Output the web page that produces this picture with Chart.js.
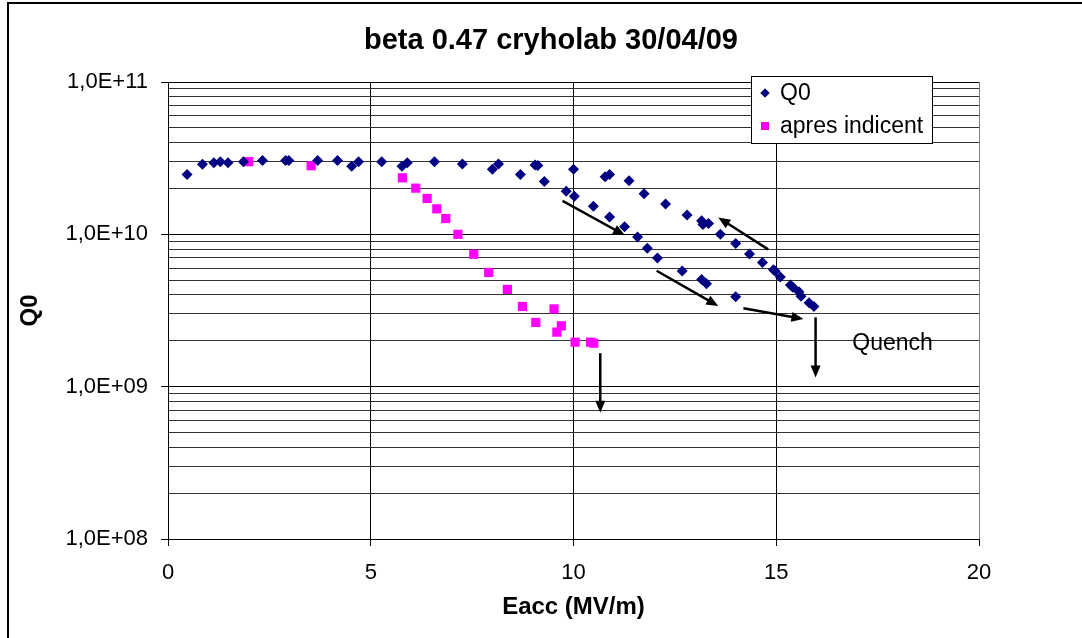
<!DOCTYPE html>
<html>
<head>
	<script src="https://cdn.jsdelivr.net/npm/chart.js@4.4.0/dist/chart.umd.min.js"></script>
	<title>beta 0.47 cryholab 30/04/09</title>
	<style>
		body { margin: 0; background: #fff; }
	</style>
</head>
<body>
	<canvas id="myChart" width="1082" height="638"></canvas>
	<script type="text/javascript">
		// Q0 series (Eacc in MV/m)
		const eaccQ0 = [0.47, 0.85, 1.13, 1.29, 1.48, 1.86, 2.33, 2.90, 2.98, 3.69, 4.18, 4.53, 4.70, 5.27, 5.77, 5.90, 6.57,
			7.26, 8.00, 8.15, 8.69, 9.05, 9.12, 9.28, 9.82, 10.00, 10.02, 10.49, 10.78, 10.89, 10.89, 11.26, 11.37, 11.58,
			11.74, 11.82, 12.07, 12.27, 12.68, 12.80, 13.16, 13.19, 13.16, 13.28, 13.33, 13.62, 14.00, 14.00, 14.34, 14.66,
			14.93, 14.97, 15.10, 15.35, 15.41, 15.56, 15.61, 15.81, 15.93];
		const q0Values = [2.47e10, 2.88e10, 2.95e10, 3.0e10, 2.95e10, 3.0e10, 3.05e10, 3.05e10, 3.05e10, 3.05e10, 3.05e10, 2.8e10, 3.0e10, 3.0e10, 2.8e10, 2.95e10, 3.0e10,
			2.9e10, 2.67e10, 2.9e10, 2.47e10, 2.85e10, 2.83e10, 2.22e10, 1.92e10, 2.67e10, 1.78e10, 1.53e10, 2.39e10, 2.47e10, 1.30e10, 1.12e10, 2.25e10, 9.6e9,
			1.85e10, 8.1e9, 7.0e9, 1.58e10, 5.74e9, 1.34e10, 1.23e10, 1.16e10, 5.06e9, 4.74e9, 1.18e10, 1.0e10, 8.69e9, 3.9e9, 7.44e9, 6.53e9,
			5.85e9, 5.75e9, 5.24e9, 4.65e9, 4.5e9, 4.2e9, 3.92e9, 3.56e9, 3.36e9];

		// "apres indicent" series
		const eaccApres = [1.99, 3.53, 5.78, 6.11, 6.39, 6.63, 6.85, 7.15, 7.54, 7.91, 8.37, 8.74, 9.07, 9.52, 9.59, 9.70, 10.04, 10.42, 10.50];
		const q0Apres = [3.0e10, 2.82e10, 2.35e10, 2.01e10, 1.72e10, 1.47e10, 1.27e10, 1.0e10, 7.4e9, 5.62e9, 4.35e9, 3.36e9, 2.64e9, 3.24e9, 2.28e9, 2.51e9, 1.96e9, 1.96e9, 1.93e9];

		// axes
		const xTicks = [0, 5, 10, 15, 20];
		const yDecades = [1e8, 1e9, 1e10, 1e11];

		// arrows drawn on the plot: [x1, y1, x2, y2] in data units
		const arrows = [
			[9.73, 1.66e10, 11.27, 9.85e9],
			[12.05, 5.77e9, 13.57, 3.38e9],
			[14.80, 7.97e9, 13.57, 1.29e10],
			[14.19, 3.27e9, 15.67, 2.78e9],
			[15.97, 2.85e9, 15.97, 1.15e9],
			[10.66, 1.66e9, 10.66, 6.74e8]
		];
		const quenchLabel = { text: 'Quench', x: 17.87, y: 1.93e9 };

		const FONT = '"Liberation Sans", Arial, sans-serif';

		function toPoints(xs, ys) {
			let pts = [];
			for (let i = 0; i < xs.length; i++) pts.push({ x: xs[i], y: ys[i] });
			return pts;
		}

		function drawArrow(ctx, x1, y1, x2, y2) {
			const a = Math.atan2(y2 - y1, x2 - x1);
			const L = 12, W = 5;
			ctx.beginPath();
			ctx.moveTo(x1, y1);
			ctx.lineTo(x2 - L * 0.7 * Math.cos(a), y2 - L * 0.7 * Math.sin(a));
			ctx.stroke();
			ctx.beginPath();
			ctx.moveTo(x2, y2);
			ctx.lineTo(x2 - L * Math.cos(a) + W * Math.sin(a), y2 - L * Math.sin(a) - W * Math.cos(a));
			ctx.lineTo(x2 - L * Math.cos(a) - W * Math.sin(a), y2 - L * Math.sin(a) + W * Math.cos(a));
			ctx.closePath();
			ctx.fill();
		}

		const overlay = {
			id: 'overlay',
			afterDraw(chart) {
				const ctx = chart.ctx;
				const xs = chart.scales.x, ys = chart.scales.y;
				ctx.save();

				// outer frame
				ctx.strokeStyle = '#000';
				ctx.lineWidth = 2;
				ctx.beginPath();
				ctx.moveTo(8, 638);
				ctx.lineTo(8, 3);
				ctx.lineTo(1082, 3);
				ctx.stroke();

				// title
				ctx.fillStyle = '#000';
				ctx.font = 'bold 29px ' + FONT;
				ctx.textAlign = 'center';
				ctx.textBaseline = 'middle';
				ctx.fillText('beta 0.47 cryholab 30/04/09', 551, 41);

				// arrows
				ctx.lineWidth = 2.5;
				ctx.strokeStyle = '#000';
				arrows.forEach(a => {
					drawArrow(ctx, xs.getPixelForValue(a[0]), ys.getPixelForValue(a[1]),
						xs.getPixelForValue(a[2]), ys.getPixelForValue(a[3]));
				});

				// Quench
				ctx.font = '23px ' + FONT;
				ctx.fillText(quenchLabel.text, xs.getPixelForValue(quenchLabel.x), ys.getPixelForValue(quenchLabel.y));

				// legend box
				ctx.fillStyle = '#fff';
				ctx.fillRect(751, 76, 181, 67);
				ctx.lineWidth = 1;
				ctx.strokeRect(751.5, 76.5, 181, 67);
				ctx.textAlign = 'left';
				ctx.fillStyle = '#000';
				const rows = [93, 126];
				const legendRadius = [4.5, 5.5];
				chart.data.datasets.forEach((ds, i) => {
					Chart.helpers.drawPoint(ctx, {
						pointStyle: ds.pointStyle,
						radius: legendRadius[i],
						borderWidth: 0
					}, 765, rows[i]);
					ctx.fillStyle = ds.backgroundColor;
					ctx.fill();
					ctx.fillStyle = '#000';
					ctx.font = '23px ' + FONT;
					ctx.fillText(ds.label, 780, rows[i] + 1);
				});
				ctx.restore();
			}
		};

		const ctx = document.getElementById('myChart');
		const myChart = new Chart(ctx, {
			type: 'scatter',
			data: {
				datasets: [
					{
						label: 'Q0',
						data: toPoints(eaccQ0, q0Values),
						pointStyle: 'rectRot',
						pointRadius: 5.5,
						borderWidth: 0,
						backgroundColor: '#000080',
						borderColor: '#000080'
					},
					{
						label: 'apres indicent',
						data: toPoints(eaccApres, q0Apres),
						pointStyle: 'rect',
						pointRadius: 6.5,
						borderWidth: 0,
						backgroundColor: '#ff00ff',
						borderColor: '#ff00ff'
					}
				]
			},
			options: {
				responsive: false,
				animation: false,
				layout: { padding: { top: 82, right: 103, left: 0, bottom: 0 } },
				plugins: {
					legend: { display: false },
					tooltip: { enabled: false }
				},
				scales: {
					x: {
						type: 'linear',
						min: 0,
						max: 20,
						afterBuildTicks: s => { s.ticks = xTicks.map(v => ({ value: v })); },
						afterFit: s => { s.height = 99; },
						ticks: { color: '#000', font: { family: FONT, size: 22 }, padding: 14 },
						grid: {
							color: c => (c.tick && c.tick.value === 20) ? '#808080' : '#000',
							tickColor: '#000',
							tickLength: 7
						},
						border: { color: '#000', width: 1 },
						title: {
							display: true,
							text: 'Eacc (MV/m)',
							color: '#000',
							font: { family: FONT, size: 24, weight: 'bold' },
							padding: { top: 0, bottom: 16 }
						}
					},
					y: {
						type: 'logarithmic',
						min: 1e8,
						max: 1e11,
						afterBuildTicks: s => {
							let t = [];
							yDecades.forEach((d, i) => {
								for (let m = 1; m <= 9; m++) {
									if (i === yDecades.length - 1 && m > 1) break;
									t.push({ value: d * m });
								}
							});
							s.ticks = t;
						},
						afterFit: s => { s.width = 168; },
						ticks: {
							autoSkip: false,
							color: '#000',
							font: { family: FONT, size: 22 },
							padding: 13,
							callback: v => yDecades.includes(v) ? '1,0E+' + String(Math.round(Math.log10(v))).padStart(2, '0') : ''
						},
						grid: {
							color: c => (c.tick && yDecades.includes(c.tick.value)) ? '#000' : '#333',
							tickColor: c => (c.tick && yDecades.includes(c.tick.value)) ? '#000' : 'rgba(0,0,0,0)',
							tickLength: 7
						},
						border: { color: '#000', width: 1 },
						title: {
							display: true,
							text: 'Q0',
							color: '#000',
							font: { family: FONT, size: 24, weight: 'bold' },
							padding: { top: 16, bottom: 0 }
						}
					}
				}
			},
			plugins: [overlay]
		});
	</script>
</body>
</html>
